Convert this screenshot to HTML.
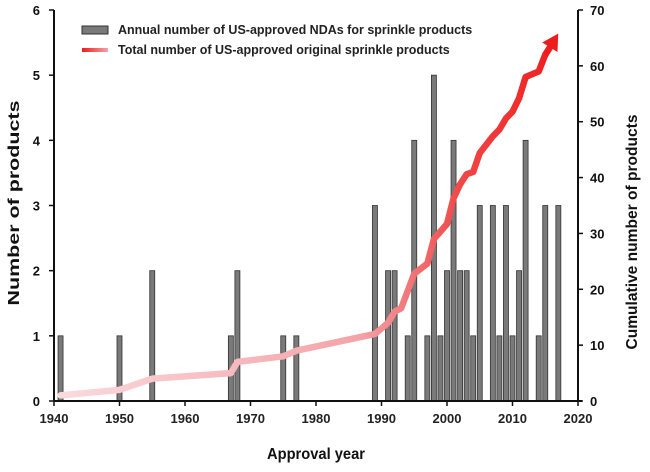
<!DOCTYPE html>
<html><head><meta charset="utf-8"><style>
body{margin:0;background:#fff;}
svg text{font-family:"Liberation Sans",sans-serif;}
</style></head><body>
<svg id="chart" width="650" height="467">
<defs>
<linearGradient id="lg" gradientUnits="userSpaceOnUse" x1="60" y1="0" x2="560" y2="0">
<stop offset="0" stop-color="#fadadd"/><stop offset="0.6" stop-color="#f4a3a8"/><stop offset="0.8" stop-color="#f04848"/><stop offset="1" stop-color="#ee1c1c"/>
</linearGradient>
<linearGradient id="lg2" x1="0" y1="0" x2="1" y2="0">
<stop offset="0" stop-color="#ee1c1c"/><stop offset="1" stop-color="#f4a3a8"/>
</linearGradient>
</defs>
<g id="bars"></g>
<g id="line"></g>
<g id="axes"></g>
<g>
<rect x="82" y="26" width="26" height="8" fill="#7a7a7a" stroke="#333" stroke-width="1"/>
<text x="118" y="34" font-size="12.5" font-weight="bold" fill="#222">Annual number of US-approved NDAs for sprinkle products</text>
<rect x="82" y="48" width="26" height="4" fill="url(#lg2)"/>
<text x="118" y="54" font-size="12.5" font-weight="bold" fill="#222">Total number of US-approved original sprinkle products</text>
</g>
<text x="19" y="203" font-size="16" font-weight="bold" text-anchor="middle" textLength="205" lengthAdjust="spacingAndGlyphs" transform="rotate(-90 19 203)" fill="#111">Number of products</text>
<text x="637" y="232" font-size="16" font-weight="bold" text-anchor="middle" textLength="235" lengthAdjust="spacingAndGlyphs" transform="rotate(-90 637 232)" fill="#111">Cumulative number of products</text>
<text x="316" y="459" font-size="16" font-weight="bold" text-anchor="middle" textLength="98" lengthAdjust="spacingAndGlyphs" fill="#111">Approval year</text>
</svg>
<script>
const barYears=[1941,1950,1955,1967,1968,1975,1977,1989,1991,1992,1994,1995,1997,1998,1999,2000,2001,2002,2003,2004,2005,2007,2008,2009,2010,2011,2012,2014,2015,2017];
const barValues=[1,1,2,1,2,1,1,3,2,2,1,4,1,5,1,2,4,2,2,1,3,3,1,3,1,2,4,1,3,3];
const lineYears=[1941,1950,1955,1967,1968,1975,1977,1989,1991,1992,1993,1995,1997,1998,2000,2001,2002,2003,2004,2005,2007,2008,2009,2010,2011,2012,2014,2015];
const lineValues=[1,2,4,5,7,8,9,12,14,16,16.6,22.8,24.6,29,31.7,36.3,38.8,40.6,41,44.4,47.4,48.6,50.6,51.8,54.2,58,59,62];
const xTicks=[1940,1950,1960,1970,1980,1990,2000,2010,2020];
const yTicks=[0,1,2,3,4,5,6];
const y2Ticks=[0,10,20,30,40,50,60,70];
const NS="http://www.w3.org/2000/svg";
const X0=54,X1=578,Y0=401,Y1=10;
const xs=y=>X0+(y-1940)/80*(X1-X0);
const ys=v=>Y0-v/6*(Y0-Y1);
const ys2=v=>Y0-v/70*(Y0-Y1);
function mk(tag,attrs,parent){const e=document.createElementNS(NS,tag);for(const k in attrs)e.setAttribute(k,attrs[k]);parent.appendChild(e);return e;}
const bars=document.getElementById('bars');
barYears.forEach((yr,i)=>{
 const r=mk('rect',{x:xs(yr)-2.5,y:ys(barValues[i]),width:5,height:Y0-ys(barValues[i]),fill:'#7a7a7a',stroke:'#333','stroke-width':0.8},bars);
 
 
});
const lg=document.getElementById('line');
const pts=lineYears.map((yr,i)=>[xs(yr),ys2(lineValues[i])]);
const pl=mk('polyline',{points:pts.map(p=>p.join(',')).join(' '),fill:'none',stroke:'url(#lg)','stroke-width':6.5,'stroke-linejoin':'round','stroke-linecap':'round'},lg);


const last=pts[pts.length-1];
const tip=[last[0]+13,last[1]-21];
const shaft=mk('line',{x1:last[0],y1:last[1],x2:tip[0]-4,y2:tip[1]+7,stroke:'#ee1c1c','stroke-width':6.5},lg);


const a=Math.atan2(tip[1]-last[1],tip[0]-last[0]);
const L=16,W=9;
const bx=tip[0]-L*Math.cos(a),by=tip[1]-L*Math.sin(a);
const head=mk('polygon',{points:`${tip[0]},${tip[1]} ${bx+W*Math.sin(a)},${by-W*Math.cos(a)} ${bx-W*Math.sin(a)},${by+W*Math.cos(a)}`,fill:'#ee1c1c'},lg);


const ax=document.getElementById('axes');
const al=[[X0,Y1,X0,Y0],[X0,Y0,X1+4,Y0],[X1,Y1,X1,Y0]];
al.forEach((l,i)=>{const e=mk('line',{x1:l[0],y1:l[1],x2:l[2],y2:l[3],stroke:'#111','stroke-width':2},ax);
 
 });
xTicks.forEach(t=>{
 mk('line',{x1:xs(t),y1:Y0,x2:xs(t),y2:Y0+5,stroke:'#111','stroke-width':1.5},ax);
 const e=mk('text',{x:xs(t),y:Y0+22,'font-size':13,'font-weight':'bold','text-anchor':'middle',fill:'#222'},ax);e.textContent=t;
 
 
});
yTicks.forEach(t=>{
 mk('line',{x1:X0-5,y1:ys(t),x2:X0,y2:ys(t),stroke:'#111','stroke-width':1.5},ax);
 const e=mk('text',{x:X0-14,y:ys(t)+5,'font-size':13,'font-weight':'bold','text-anchor':'end',fill:'#111'},ax);e.textContent=t;
 
 
});
y2Ticks.forEach(t=>{
 mk('line',{x1:X1,y1:ys2(t),x2:X1+5,y2:ys2(t),stroke:'#111','stroke-width':1.5},ax);
 const e=mk('text',{x:X1+12,y:ys2(t)+5,'font-size':13,'font-weight':'bold','text-anchor':'start',fill:'#111'},ax);e.textContent=t;
 
 
});
</script>
</body></html>
